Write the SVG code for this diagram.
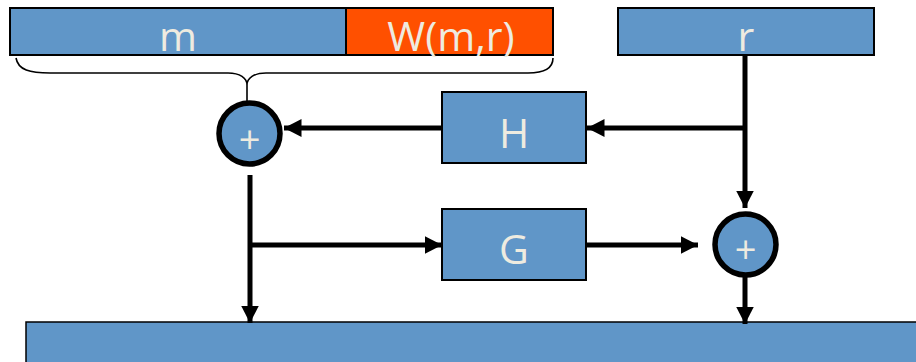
<svg xmlns="http://www.w3.org/2000/svg" width="916" height="362" viewBox="0 0 916 362">
<defs>
<marker id="ah" viewBox="0 0 10 10" refX="10" refY="5" markerWidth="3.5" markerHeight="3.6" markerUnits="strokeWidth" orient="auto" preserveAspectRatio="none">
<path d="M0,0 L10,5 L0,10 Z" fill="#000"/>
</marker>
<style>
.box{fill:#6096c8;stroke:#000;stroke-width:2}
.org{fill:#ff5000;stroke:#000;stroke-width:2}
.circ{fill:#6096c8;stroke:#000;stroke-width:5.5}
.lbl{font-family:"Open Sans","Noto Sans",sans-serif;font-size:41px;fill:#eeebe0;text-anchor:middle}
.plus{font-family:"Open Sans","Noto Sans",sans-serif;font-size:38px;fill:#eeebe0;text-anchor:middle}
.ln{fill:none;stroke:#000;stroke-width:5}
.ar{fill:none;stroke:#000;stroke-width:5;marker-end:url(#ah)}
.brace{fill:none;stroke:#000;stroke-width:1.6}
</style>
</defs>
<g id="m"><rect class="box" x="10" y="8" width="336" height="47"/><text class="lbl" x="178" y="51">m</text></g>
<g id="w"><rect class="org" x="346" y="8" width="207" height="47"/><text class="lbl" x="451" y="51">W(m,r)</text></g>
<g id="r"><rect class="box" x="618" y="8" width="256" height="47"/><text class="lbl" x="746" y="51">r</text></g>
<g id="brace"><path class="brace" d="M16,58 C18,70 30,73 50,73 L228,73 C240,73 247,78 247,85 C247,78 254,73 266,73 L528,73 C548,73 553,66 553,58 M247,85 L247,101"/></g>
<g id="sum1"><circle class="circ" cx="249.5" cy="133.5" r="30.5"/><text class="plus" x="249.5" y="153">+</text></g>
<g id="H"><rect class="box" x="442" y="92" width="144" height="71"/><text class="lbl" x="514" y="148">H</text></g>
<g id="G"><rect class="box" x="442" y="209" width="144" height="71"/><text class="lbl" x="514" y="264">G</text></g>
<g id="sum2"><circle class="circ" cx="745.5" cy="244.5" r="30.5"/><text class="plus" x="745.5" y="263">+</text></g>
<g id="out"><rect x="26" y="322" width="900" height="50" fill="#6096c8" stroke="#000" stroke-width="1.5"/></g>
<g id="connectors">
<path class="ln" d="M745,55 L745,128"/>
<path class="ar" d="M745,128 L587,128"/>
<path class="ar" d="M745,128 L745,208"/>
<path class="ar" d="M442,128 L284,128"/>
<path class="ar" d="M250,175 L250,323"/>
<path class="ar" d="M250,245 L442,245"/>
<path class="ar" d="M586,245 L698,245"/>
<path class="ar" d="M745,277 L745,324"/>
</g>
</svg>
